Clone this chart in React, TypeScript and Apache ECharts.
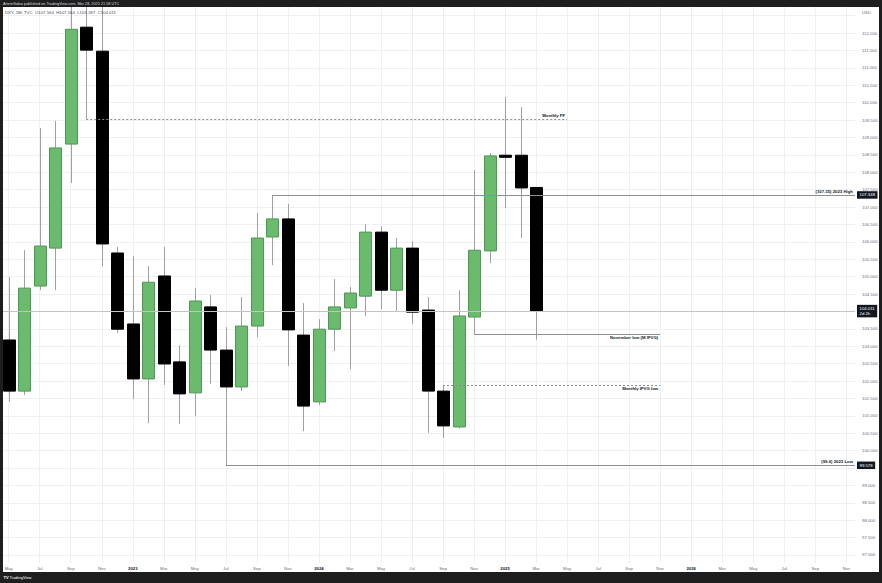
import { useEffect, useRef } from 'react';
import * as echarts from 'echarts';

// Month index 0 = May 2022. Labels every two months along the time scale.
const timeLabels = [
  'May', 'Jul', 'Sep', 'Nov', '2023', 'Mar', 'May', 'Jul', 'Sep', 'Nov',
  '2024', 'Mar', 'May', 'Jul', 'Sep', 'Nov', '2025', 'Mar', 'May', 'Jul',
  'Sep', 'Nov', '2026', 'Mar', 'May', 'Jul', 'Sep', 'Nov',
];

// DXY monthly OHLC, May 2022 .. Mar 2025
const opens = [
  103.18, 101.71, 104.73, 105.82, 108.81, 112.17, 111.48, 105.68, 103.64, 102.06,
  105.02, 102.55, 101.66, 104.13, 102.89, 101.83, 103.58, 106.14, 106.66, 103.32,
  101.40, 103.49, 104.10, 104.44, 106.28, 104.61, 105.82, 104.04, 101.71, 100.68,
  103.84, 105.74, 108.49, 108.49, 107.564,
];
const closes = [
  101.71, 104.67, 105.88, 108.70, 112.11, 111.51, 105.94, 103.49, 102.06, 104.84,
  102.49, 101.63, 104.30, 102.89, 101.83, 103.58, 106.11, 106.66, 103.47, 101.28,
  103.49, 104.13, 104.53, 106.28, 104.61, 105.82, 103.98, 101.71, 100.71, 103.87,
  105.76, 108.47, 108.43, 107.55, 104.011,
];
const lows = [
  101.40, 101.60, 104.61, 104.61, 107.69, 109.53, 105.30, 103.38, 101.48, 100.79,
  101.89, 100.76, 101.00, 101.91, 99.578, 101.71, 103.26, 105.33, 102.43, 100.56,
  101.31, 102.86, 102.34, 103.87, 104.07, 103.98, 103.64, 100.51, 100.36, 100.64,
  103.35, 105.39, 106.97, 106.11, 103.187,
];
const highs = [
  104.99, 105.76, 109.27, 109.47, 114.78, 113.90, 113.15, 105.85, 105.59, 105.30,
  105.85, 103.03, 104.67, 104.47, 103.55, 104.41, 106.83, 107.348, 107.09, 104.24,
  103.78, 104.93, 104.70, 106.51, 106.45, 106.11, 106.02, 104.41, 101.89, 104.61,
  108.06, 108.55, 110.16, 109.87, 107.564,
];

// Price scale labels (two are covered by price tags) and grid levels
const priceLabels = [
  97, 97.5, 98, 98.5, 99, 100, 100.5, 101, 101.5, 102, 102.5, 103, 103.5,
  104.5, 105, 105.5, 106, 106.5, 107, 107.5, 108, 108.5, 109, 109.5, 110,
  110.5, 111, 111.5, 112,
];
const priceGrid = [
  97, 97.5, 98, 98.5, 99, 99.5, 100, 100.5, 101, 101.5, 102, 102.5, 103, 103.5,
  104, 104.5, 105, 105.5, 106, 106.5, 107, 107.5, 108, 108.5, 109, 109.5, 110,
  110.5, 111, 111.5, 112, 112.5,
];

// Drawn levels: label, price, first month index, last month index (null = to the price scale)
const levelNames = ['Monthly FF', '(107.35) 2023 High', 'November low (M IFVG)', 'Monthly IFVG low', '(99.6) 2023 Low'];
const levelPrices = [109.53, 107.348, 103.35, 101.89, 99.578];
const levelStarts = [5, 17, 30, 28, 14];
const levelEnds: (number | null)[] = [36, null, 42, 42, null];
const levelDashed = [true, false, false, true, false];
const levelBelow = [false, false, true, true, false];
const levelTags = [false, true, false, false, true];

const lastPrice = 104.011;
const lastPriceCountdown = '2d 2h';

const X_MIN = -0.3675;
const X_MAX = 54.56;
const Y_MIN = 96.77;
const Y_MAX = 112.75;

const FONT = "'Liberation Sans', Arial, sans-serif";
const FS = 4.3;

export default function App() {
  const ref = useRef<HTMLDivElement>(null);

  useEffect(() => {
    if (!ref.current) return;
    const chart = echarts.init(ref.current, undefined, { renderer: 'svg' });

    const candleData = opens.map((o, i) => [i, o, closes[i], lows[i], highs[i]]);

    const tagLabel = (text: string) => ({
      show: true,
      position: 'end',
      distance: [2, 0],
      formatter: text,
      fontSize: FS,
      lineHeight: 5,
      fontFamily: FONT,
      color: '#ffffff',
      backgroundColor: '#131722',
      padding: [1.5, 2.5, 1, 2.5],
    });

    const levelData: any[] = [];
    levelNames.forEach((name, k) => {
      const v = levelPrices[k];
      const end = levelEnds[k] === null ? X_MAX : (levelEnds[k] as number);
      levelData.push([
        {
          coord: [levelStarts[k], v],
          lineStyle: {
            color: levelDashed[k] ? '#8c8c8c' : '#8f8f8f',
            width: 1,
            type: levelDashed[k] ? [2, 2] : 'solid',
          },
          label: {
            show: true,
            position: levelBelow[k] ? 'insideEndBottom' : 'insideEndTop',
            distance: [2, 1.5],
            formatter: name,
            fontSize: FS,
            fontWeight: 'bold',
            fontFamily: FONT,
            color: '#131722',
          },
        },
        { coord: [end, v] },
      ]);
      if (levelTags[k]) {
        levelData.push([
          {
            coord: [X_MAX - 1, v],
            lineStyle: { color: 'rgba(0,0,0,0)', width: 1 },
            label: tagLabel(v.toFixed(3)),
          },
          { coord: [X_MAX, v] },
        ]);
      }
    });
    levelData.push({
      yAxis: lastPrice,
      lineStyle: { color: '#c4c4c4', width: 1, type: 'solid' },
      label: tagLabel(`${lastPrice.toFixed(3)}\n${lastPriceCountdown}`),
    });

    const gridData: any[] = [
      ...priceGrid.map((v) => ({ yAxis: v })),
      ...timeLabels.map((_, k) => ({ xAxis: k * 2 })),
    ];

    const option: any = {
      animation: false,
      backgroundColor: '#ffffff',
      grid: { left: 3, right: 27, top: 7, bottom: 20 },
      xAxis: {
        type: 'value',
        min: X_MIN,
        max: X_MAX,
        axisLine: { show: false },
        axisTick: { show: false },
        splitLine: { show: false },
        axisLabel: {
          customValues: timeLabels.map((_, k) => k * 2),
          formatter: (v: number) => {
            const t = timeLabels[Math.round(v / 2)] ?? '';
            return /^\d{4}$/.test(t) ? `{yr|${t}}` : t;
          },
          fontSize: FS,
          fontFamily: FONT,
          color: '#6a6d78',
          margin: 3,
          rich: { yr: { fontSize: FS, fontWeight: 'bold', color: '#131722', fontFamily: FONT } },
        },
      },
      yAxis: {
        type: 'value',
        position: 'right',
        min: Y_MIN,
        max: Y_MAX,
        axisLine: { show: false },
        axisTick: { show: false },
        splitLine: { show: false },
        axisLabel: {
          customValues: priceLabels,
          formatter: (v: number) => v.toFixed(3),
          fontSize: FS,
          fontFamily: FONT,
          color: '#6a6d78',
          margin: 7,
        },
      },
      series: [
        {
          type: 'line',
          data: [],
          silent: true,
          z: 1,
          markLine: {
            silent: true,
            animation: false,
            z: 1,
            symbol: ['none', 'none'],
            label: { show: false },
            lineStyle: { color: '#eef0f3', width: 1, type: 'solid' },
            data: gridData,
          },
        },
        {
          type: 'custom',
          clip: true,
          z: 3,
          data: candleData,
          renderItem: (_params: any, api: any) => {
            const i = api.value(0);
            const o = api.value(1);
            const c = api.value(2);
            const lo = api.value(3);
            const hi = api.value(4);
            const top = api.coord([i, Math.max(o, c)]);
            const bot = api.coord([i, Math.min(o, c)]);
            const pH = api.coord([i, hi]);
            const pL = api.coord([i, lo]);
            const w = api.size([1, 0])[0] * 0.77;
            const up = c >= o;
            const xc = Math.round(top[0]) + 0.5;
            return {
              type: 'group',
              children: [
                {
                  type: 'line',
                  shape: { x1: xc, y1: pH[1], x2: xc, y2: pL[1] },
                  style: { stroke: '#a0a0a0', lineWidth: 1 },
                },
                {
                  type: 'rect',
                  shape: { x: xc - w / 2, y: top[1], width: w, height: Math.max(bot[1] - top[1], 1.2) },
                  style: {
                    fill: up ? '#6bbb6e' : '#000000',
                    stroke: up ? '#4f9653' : '#000000',
                    lineWidth: 1,
                  },
                },
              ],
            };
          },
        },
        {
          type: 'line',
          data: [],
          silent: true,
          clip: false,
          z: 5,
          markLine: {
            silent: true,
            animation: false,
            z: 6,
            symbol: ['none', 'none'],
            data: levelData,
          },
        },
      ],
      graphic: [
        { type: 'rect', z: 100, silent: true, shape: { x: 0, y: 0, width: 882, height: 7 }, style: { fill: '#1e1e1e' } },
        { type: 'rect', z: 100, silent: true, shape: { x: 0, y: 572, width: 882, height: 11 }, style: { fill: '#1e1e1e' } },
        { type: 'rect', z: 100, silent: true, shape: { x: 0, y: 0, width: 3, height: 583 }, style: { fill: '#1e1e1e' } },
        { type: 'rect', z: 100, silent: true, shape: { x: 879, y: 0, width: 3, height: 583 }, style: { fill: '#1e1e1e' } },
        {
          type: 'text', z: 101, x: 3, y: 3.8,
          style: {
            text: 'ArtemSabai published on TradingView.com, Mar 28, 2025 21:58 UTC',
            fill: '#d8d8d8', fontSize: 3.8, fontFamily: FONT, verticalAlign: 'middle',
          },
        },
        {
          type: 'text', z: 101, x: 5, y: 12.5,
          style: {
            text: 'DXY, 1M, TVC  O107.564  H107.564  L103.187  C104.011',
            fill: '#4a4d57', fontSize: FS, fontFamily: FONT, verticalAlign: 'middle',
          },
        },
        {
          type: 'text', z: 101, x: 862, y: 12.5,
          style: { text: 'USD', fill: '#6a6d78', fontSize: FS, fontFamily: FONT, verticalAlign: 'middle' },
        },
        {
          type: 'text', z: 101, x: 3.5, y: 577.5,
          style: { text: 'TV', fill: '#ffffff', fontSize: 4, fontWeight: 'bold', fontFamily: FONT, verticalAlign: 'middle' },
        },
        {
          type: 'text', z: 101, x: 9.5, y: 577.5,
          style: { text: 'TradingView', fill: '#ffffff', fontSize: 4, fontFamily: FONT, verticalAlign: 'middle' },
        },
      ],
    };

    chart.setOption(option);
    return () => chart.dispose();
  }, []);

  return (
    <div
      ref={ref}
      style={{ position: 'fixed', left: 0, top: 0, width: 882, height: 583 }}
    />
  );
}
